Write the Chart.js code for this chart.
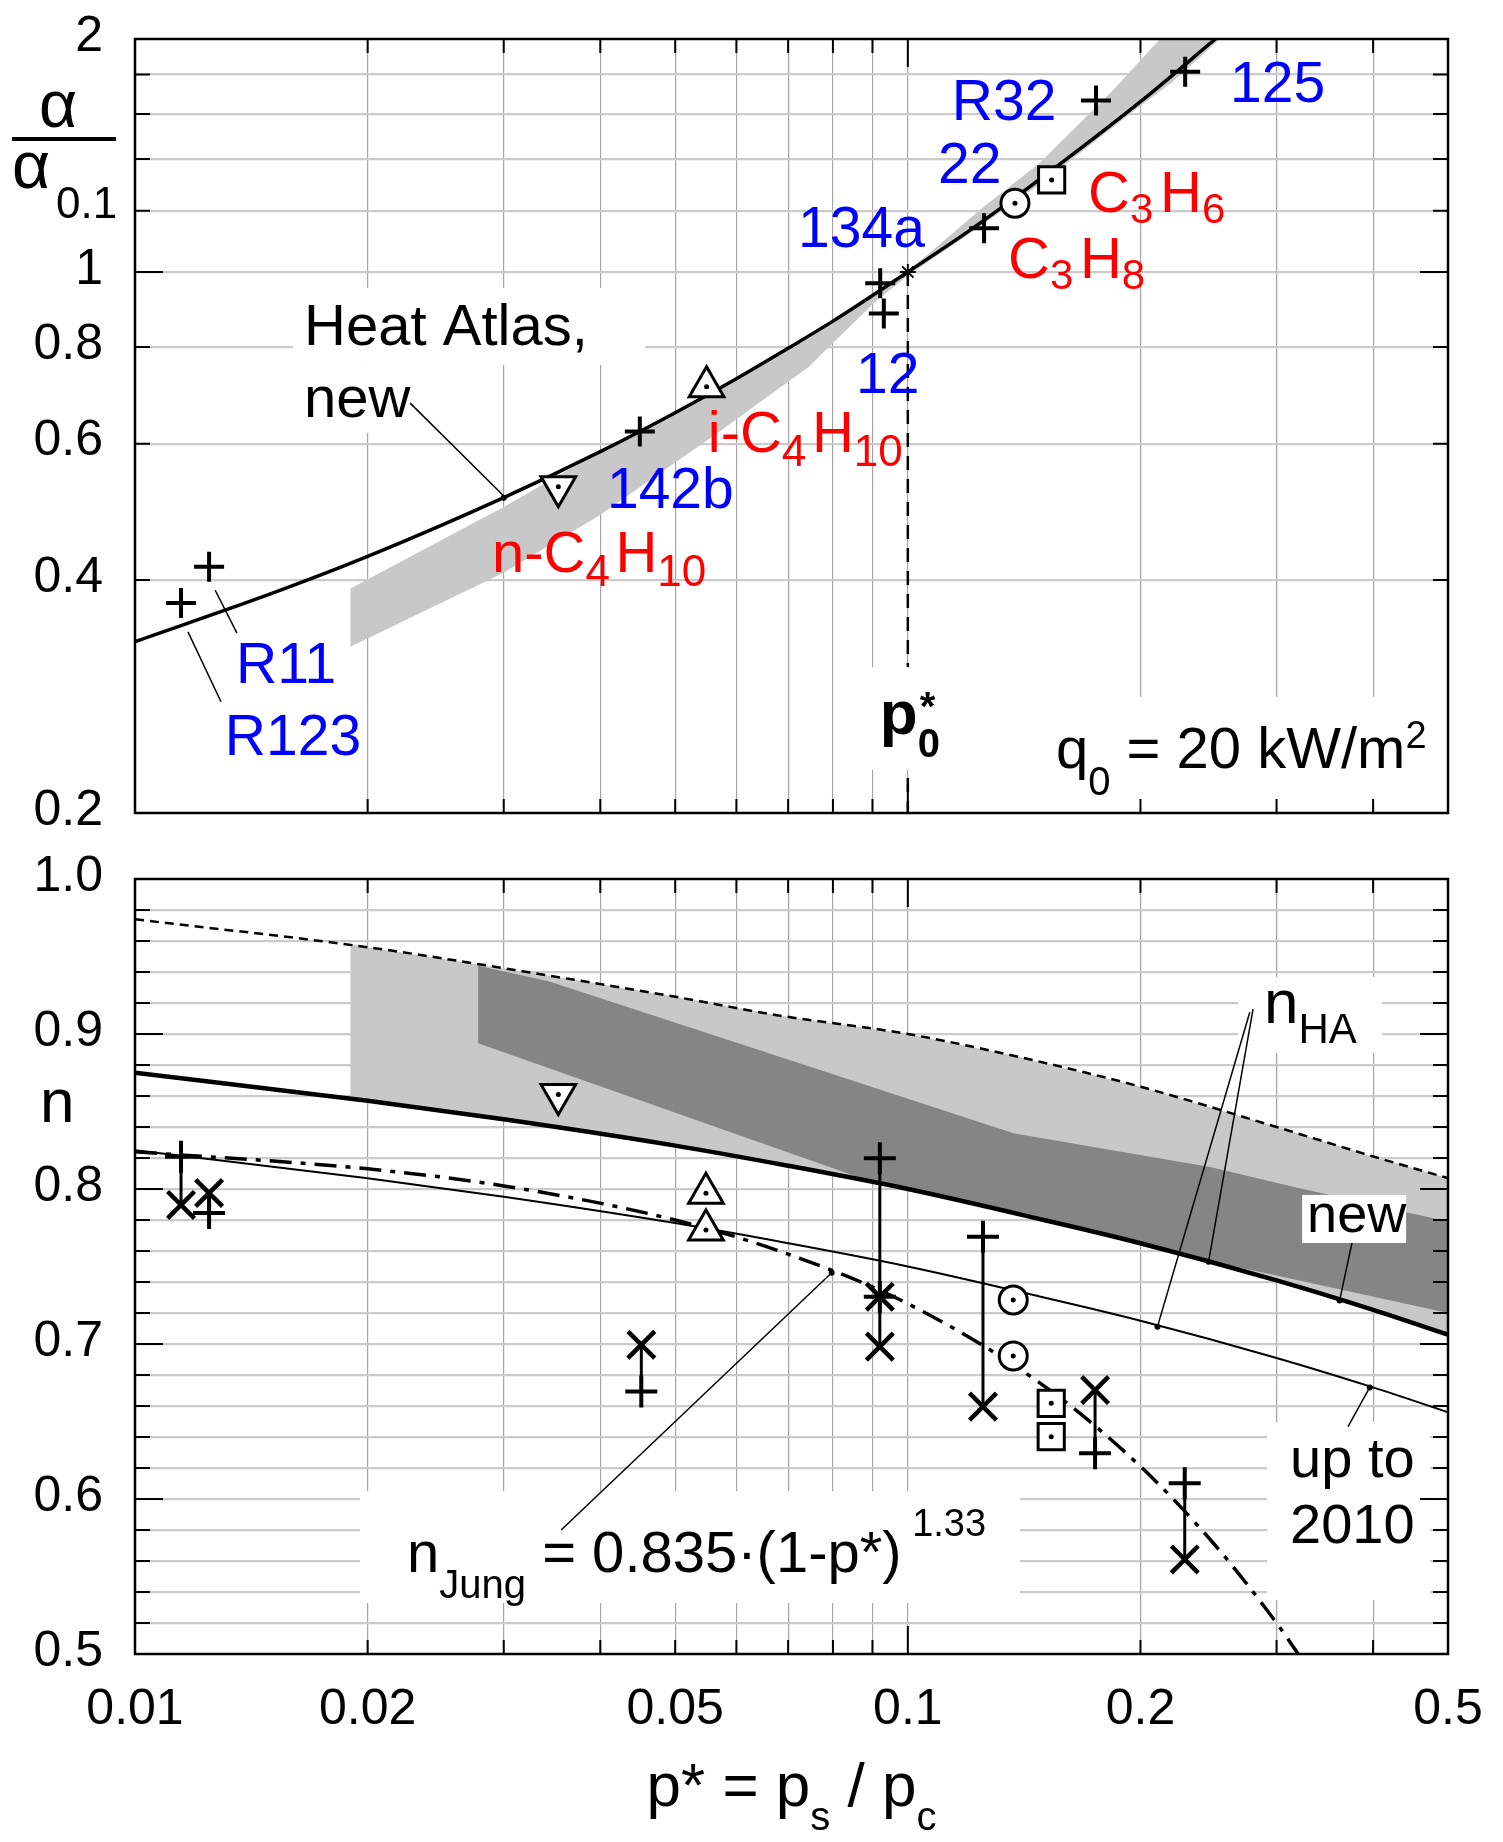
<!DOCTYPE html>
<html>
<head>
<meta charset="utf-8">
<title>alpha / alpha0.1 and n over p*</title>
<script src="https://cdn.jsdelivr.net/npm/chart.js@4.4.1/dist/chart.umd.min.js"></script>
<style>
  body { margin: 0; background: #fff; }
  #top-box { position: absolute; left: 0; top: 0; width: 1503px; height: 850px; }
  #bot-box { position: absolute; left: 0; top: 840px; width: 1503px; height: 1002px; }
</style>
</head>
<body>
<div id="top-box"><canvas id="top-chart" width="1503" height="850"></canvas></div>
<div id="bot-box"><canvas id="bot-chart" width="1503" height="1002"></canvas></div>
<script>
// ---------- upper panel: alpha / alpha0.1 over p* ----------
const pHeatAtlas     = [0.01, 0.015, 0.02, 0.03, 0.04, 0.05, 0.06, 0.07, 0.08, 0.1, 0.12, 0.15, 0.2, 0.25];
const alphaHeatAtlas = [0.333, 0.384, 0.429, 0.511, 0.586, 0.658, 0.728, 0.797, 0.864, 1.0, 1.13, 1.33, 1.66, 2.0];

// grey scatter band (outline, upper side then back along lower side)
const bandP = [0.019, 0.030, 0.0365, 0.045, 0.055, 0.07, 0.085, 0.095, 0.106, 0.124, 0.148, 0.1845, 0.212, 0.2535,
               0.22, 0.2, 0.15, 0.12, 0.1, 0.0908, 0.0744, 0.0559, 0.0397, 0.0299, 0.019];
const bandA = [0.390, 0.497, 0.556, 0.620, 0.692, 0.796, 0.897, 0.966, 1.052, 1.203, 1.382, 1.72, 2.0, 2.0,
               1.76, 1.64, 1.31, 1.12, 0.99, 0.916, 0.754, 0.613, 0.483, 0.408, 0.328];

// measured fluids (R123, R11, 142b, 134a, 12, C3H8, R32, 125)
const plusTopP = [0.01147, 0.01247, 0.045, 0.0921, 0.0931, 0.1255, 0.1752, 0.2285];
const plusTopA = [0.3735, 0.416, 0.622, 0.967, 0.884, 1.139, 1.665, 1.815];
const downTriTopP = [0.0353];  const downTriTopA = [0.528];   // n-C4H10
const upTriTopP   = [0.0549];  const upTriTopA   = [0.711];   // i-C4H10
const circleTopP  = [0.1376];  const circleTopA  = [1.227];   // 22
const squareTopP  = [0.1535];  const squareTopA  = [1.315];   // C3H6
const p0 = [0.1]; const alphaAtP0 = [1.0];

// ---------- lower panel: exponent n over p* ----------
const pN   = [0.01, 0.02, 0.03, 0.05, 0.07, 0.1, 0.15, 0.2, 0.3, 0.4, 0.5];
const nNew = [0.875, 0.857, 0.845, 0.828, 0.815, 0.800, 0.780, 0.765, 0.741, 0.722, 0.706];
const nOld = [0.825, 0.807, 0.795, 0.778, 0.765, 0.750, 0.730, 0.715, 0.691, 0.672, 0.656];
const pJung = [0.01, 0.02, 0.03, 0.05, 0.07, 0.1, 0.15, 0.2, 0.25, 0.3, 0.32];
const nJung = [0.824, 0.813, 0.802, 0.780, 0.758, 0.726, 0.673, 0.621, 0.570, 0.520, 0.500];
const pUpper = [0.01, 0.02, 0.034, 0.05, 0.068, 0.1, 0.137, 0.2, 0.3, 0.4, 0.5];
const nUpper = [0.974, 0.956, 0.938, 0.924, 0.912, 0.900, 0.886, 0.866, 0.840, 0.821, 0.807];

const lightP = [0.019, 0.02, 0.034, 0.05, 0.068, 0.1, 0.137, 0.2, 0.3, 0.4, 0.5,
                0.5, 0.4, 0.3, 0.2, 0.15, 0.1, 0.07, 0.05, 0.03, 0.02, 0.019];
const lightN = [0.958, 0.956, 0.938, 0.924, 0.912, 0.900, 0.886, 0.866, 0.840, 0.821, 0.807,
                0.706, 0.722, 0.741, 0.765, 0.780, 0.800, 0.815, 0.828, 0.845, 0.857, 0.859];
const darkP = [0.0278, 0.0343, 0.137, 0.247, 0.315, 0.5, 0.5, 0.2013, 0.15, 0.12, 0.0893, 0.0278];
const darkN = [0.944, 0.934, 0.836, 0.814, 0.8015, 0.779, 0.720, 0.763, 0.780, 0.791, 0.805, 0.894];

const plusBotP = [0.01147, 0.01247, 0.0452, 0.092, 0.092, 0.1251, 0.1747, 0.2282];
const plusBotN = [0.8208, 0.7845, 0.6694, 0.8198, 0.7305, 0.7692, 0.6295, 0.6101];
const xBotP = [0.01147, 0.01247, 0.0452, 0.092, 0.092, 0.1251, 0.1747, 0.2282];
const xBotN = [0.7897, 0.7974, 0.6995, 0.7305, 0.6983, 0.6596, 0.6703, 0.5610];
const downTriBotP = [0.0353];         const downTriBotN = [0.861];
const upTriBotP   = [0.0548, 0.0548]; const upTriBotN   = [0.7972, 0.7735];
const circleBotP  = [0.1369, 0.1369]; const circleBotN  = [0.7284, 0.6923];
const squareBotP  = [0.1533, 0.1533]; const squareBotN  = [0.6617, 0.6402];
const connP   = [0.01147, 0.01247, 0.0452, 0.092, 0.1251, 0.1747, 0.2282];
const connTop = [0.8208, 0.7974, 0.6995, 0.8198, 0.7692, 0.6703, 0.6101];
const connBot = [0.7897, 0.7845, 0.6694, 0.6983, 0.6596, 0.6295, 0.5610];
const dotBotP = [0.0797, 0.245, 0.362, 0.2104, 0.396];
const dotBotN = [0.746, 0.7531, 0.728, 0.7112, 0.672];

// axis ticks
const xGrid = [0.02, 0.03, 0.04, 0.05, 0.06, 0.07, 0.08, 0.09, 0.1, 0.2, 0.3, 0.4];
const xTickLabels = ['0.01', '0.02', '0.05', '0.1', '0.2', '0.5'];
const yTopGrid = [0.4, 0.6, 0.8, 1, 1.2, 1.4, 1.6, 1.8];
const yTopLabels = ['0.2', '0.4', '0.6', '0.8', '1', '2'];
const yBotLabels = ['0.5', '0.6', '0.7', '0.8', '0.9', '1.0'];
const yBotGrid = [];
for (let k = 26; k < 50; k++) yBotGrid.push(k / 50);

const FONT = '"Liberation Sans", Arial, sans-serif';
const BLUE = '#0000ff', RED = '#ff0000';

// leader lines, in data coordinates [p1, y1, p2, y2]
const topLeaders = [[0.0227, 0.677, 0.0301, 0.512], [0.0127, 0.388, 0.01355, 0.3416], [0.01171, 0.3428, 0.01292, 0.2785]];
const botLeaders = [[0.0356, 0.58, 0.0797, 0.746], [0.2797, 0.916, 0.245, 0.7531], [0.277, 0.914, 0.2104, 0.7112],
                    [0.3766, 0.768, 0.362, 0.728], [0.3712, 0.6467, 0.396, 0.672]];

// text parts: [text, size, dy, bold, absolute dx]
const topLabels = [
  { at: [0.01655, 0.805], parts: [['Heat Atlas,', 58]], box: [-11, -57, 341, 20] },
  { at: [0.01655, 0.650], parts: [['new', 58]], box: [-11, -52, 166, 16] },
  { at: [0.114, 1.571], color: BLUE, parts: [['R32', 57]] },
  { at: [0.2612, 1.660], color: BLUE, parts: [['125', 57]] },
  { at: [0.1094, 1.303], color: BLUE, parts: [['22', 57]] },
  { at: [0.0721, 1.077], color: BLUE, parts: [['134a', 57]] },
  { at: [0.0857, 0.698], color: BLUE, parts: [['12', 57]] },
  { at: [0.0408, 0.496], color: BLUE, parts: [['142b', 57]] },
  { at: [0.01351, 0.2944], color: BLUE, parts: [['R11', 57]] },
  { at: [0.01307, 0.2378], color: BLUE, parts: [['R123', 57]] },
  { at: [0.1711, 1.195], color: RED, parts: [['C', 58], ['3', 42, 11], [' ', 24], ['H', 58], ['6', 42, 11]] },
  { at: [0.1348, 0.982], color: RED, parts: [['C', 58], ['3', 42, 11], [' ', 24], ['H', 58], ['8', 42, 11]] },
  { at: [0.0551, 0.586], color: RED, parts: [['i-C', 58], ['4', 44, 14], [' ', 20], ['H', 58], ['10', 44, 14]] },
  { at: [0.02897, 0.410], color: RED, parts: [['n-C', 58], ['4', 44, 14], [' ', 20], ['H', 58], ['10', 44, 14]] },
  { at: [0.092, 0.2529], parts: [['p', 62, 0, true], ['0', 40, 23, true], ['*', 40, -14, true, 40]], box: [-20, -67, 70, 36], over: true },
  { at: [0.1555, 0.2287], parts: [['q', 58], ['0', 40, 27], [' = 20 kW/m', 58], ['2', 38, -20]], box: [-16, -71, 384, 38] }
];
const botLabels = [
  { at: [0.2890, 0.9071], parts: [['n', 62], ['HA', 42, 20]], box: [-26, -46, 118, 30] },
  { at: [0.3286, 0.7723], parts: [['new', 54]], box: [-5, -37, 99, 11], over: true },
  { at: [0.3123, 0.6142], parts: [['up to', 56]], box: [-23, -55, 140, 123] },
  { at: [0.3123, 0.5716], parts: [['2010', 56]] },
  { at: [0.02249, 0.5529], parts: [['n', 58], ['Jung', 40, 26], [' = 0.835·(1-p*)', 58], [' 1.33', 38, -36]], box: [-47, -81, 613, 31] }
];

const xy = (xs, ys) => xs.map((x, i) => ({ x: x, y: ys[i] }));

function drawParts(ctx, x, y, parts, color) {
  let cx = x;
  parts.forEach(p => {
    const size = p[1], dy = p[2] || 0, bold = p[3], abs = p[4];
    ctx.font = (bold ? 'bold ' : '') + size + 'px ' + FONT;
    ctx.fillStyle = color;
    if (abs != null) {
      ctx.fillText(p[0], x + abs, y + dy);
    } else {
      ctx.fillText(p[0], cx, y + dy);
      cx += ctx.measureText(p[0]).width;
    }
  });
  return cx - x;
}

function partsWidth(ctx, parts) {
  let w = 0;
  parts.forEach(p => { ctx.font = p[1] + 'px ' + FONT; w += ctx.measureText(p[0]).width; });
  return w;
}

function lineDs(data, width, dash, order) {
  return { data: data, showLine: true, borderColor: '#000', borderWidth: width, borderDash: dash || [],
           pointRadius: 0, fill: false, tension: 0, order: order || 10 };
}
function curveDs(data, width, dash) {
  const d = lineDs(data, width, dash, 10);
  d.cubicInterpolationMode = 'monotone';
  return d;
}
function bandDs(data, color, order) {
  return { data: data, showLine: true, fill: 'shape', backgroundColor: color, borderColor: 'rgba(0,0,0,0)',
           borderWidth: 1, pointRadius: 0, tension: 0, order: order };
}
function markDs(data, style, radius, width, extra) {
  return Object.assign({ data: data, showLine: false, pointStyle: style, pointRadius: radius,
    pointBorderWidth: width, pointBorderColor: '#000', pointBackgroundColor: '#fff', order: 1 }, extra || {});
}
function dotDs(data, radius) {
  return { data: data, showLine: false, pointStyle: 'circle', pointRadius: radius, pointBorderWidth: 0,
           pointBorderColor: '#000', pointBackgroundColor: '#000', order: 0 };
}
function leaderDs(list) {
  return list.map(l => lineDs([{ x: l[0], y: l[1] }, { x: l[2], y: l[3] }], 1.5, null, 9));
}

function near(v, list) { return list.some(m => Math.abs(m - v) < 1e-9); }

// frame, inward ticks, tick labels, white label boxes and annotations
function makeDeco(cfg) {
  function boxes(chart, over) {
    const ctx = chart.ctx, sx = chart.scales.x, sy = chart.scales.y;
    ctx.save();
    ctx.fillStyle = '#fff';
    cfg.labels.forEach(l => {
      if (!l.box || !!l.over !== over) return;
      const ax = sx.getPixelForValue(l.at[0]), ay = sy.getPixelForValue(l.at[1]);
      ctx.fillRect(ax + l.box[0], ay + l.box[1], l.box[2] - l.box[0], l.box[3] - l.box[1]);
    });
    ctx.restore();
  }
  return {
    id: 'deco',
    beforeDatasetsDraw(chart) { boxes(chart, false); },
    afterDatasetsDraw(chart) {
      boxes(chart, true);
      const ctx = chart.ctx, sx = chart.scales.x, sy = chart.scales.y;
      ctx.save();
      ctx.textAlign = 'left';
      ctx.textBaseline = 'alphabetic';
      cfg.labels.forEach(l => {
        drawParts(ctx, sx.getPixelForValue(l.at[0]), sy.getPixelForValue(l.at[1]), l.parts, l.color || '#000');
      });
      ctx.restore();
    },
    afterDraw(chart) {
      const ctx = chart.ctx, a = chart.chartArea, sx = chart.scales.x, sy = chart.scales.y;
      ctx.save();
      ctx.strokeStyle = '#000';
      ctx.lineWidth = 2;
      ctx.beginPath();
      cfg.xTicks.forEach(v => {
        const px = sx.getPixelForValue(v);
        const len = near(v, cfg.xMajor) ? 28 : 14;
        ctx.moveTo(px, a.bottom); ctx.lineTo(px, a.bottom - len);
        ctx.moveTo(px, a.top); ctx.lineTo(px, a.top + len);
      });
      cfg.yTicks.forEach(v => {
        const py = sy.getPixelForValue(v);
        const len = near(v, cfg.yMajor) ? 28 : 15;
        ctx.moveTo(a.left, py); ctx.lineTo(a.left + len, py);
        ctx.moveTo(a.right, py); ctx.lineTo(a.right - len, py);
      });
      ctx.stroke();
      ctx.lineWidth = 2.5;
      ctx.strokeRect(a.left, a.top, a.right - a.left, a.bottom - a.top);

      ctx.fillStyle = '#000';
      ctx.font = '50px ' + FONT;
      ctx.textAlign = 'right';
      ctx.textBaseline = 'middle';
      cfg.yLabels.forEach(t => ctx.fillText(t, a.left - 32, sy.getPixelForValue(parseFloat(t)) - 2));
      ctx.textAlign = 'center';
      ctx.textBaseline = 'alphabetic';
      (cfg.xLabels || []).forEach(t => ctx.fillText(t, sx.getPixelForValue(parseFloat(t)), a.bottom + 70));
      ctx.textAlign = 'left';
      if (cfg.titles) cfg.titles(ctx, a);
      ctx.restore();
    }
  };
}

function scales(yType, yMin, yMax, yGrid) {
  return {
    x: {
      type: 'logarithmic', min: 0.01, max: 0.5,
      afterFit: s => { s.height = 0; },
      afterBuildTicks: s => { s.ticks = xGrid.map(v => ({ value: v })); },
      ticks: { display: false },
      grid: { color: '#a6a6a6', lineWidth: 1.2, drawTicks: false },
      border: { display: false }
    },
    y: {
      type: yType, min: yMin, max: yMax,
      afterFit: s => { s.width = 0; },
      afterBuildTicks: s => { s.ticks = yGrid.map(v => ({ value: v })); },
      ticks: { display: false },
      grid: { color: '#cbcbcb', lineWidth: 2.2, drawTicks: false },
      border: { display: false }
    }
  };
}

const baseOpts = {
  responsive: false, animation: false, devicePixelRatio: 1, events: [],
  plugins: { legend: { display: false }, tooltip: { enabled: false } }
};

// ----- upper chart -----
const topDatasets = [
  bandDs(xy(bandP, bandA), '#c8c8c8', 20),
  curveDs(xy(pHeatAtlas, alphaHeatAtlas), 3.5),
  lineDs([{ x: p0[0], y: alphaAtP0[0] }, { x: p0[0], y: 0.2 }], 2.5, [14, 9], 10),
  ...leaderDs(topLeaders),
  markDs(xy(plusTopP, plusTopA), 'cross', 15, 4),
  markDs(xy(downTriTopP, downTriTopA), 'triangle', 20, 3, { pointRotation: 180 }),
  markDs(xy(upTriTopP, upTriTopA), 'triangle', 20, 3),
  markDs(xy(circleTopP, circleTopA), 'circle', 14, 3),
  markDs(xy(squareTopP, squareTopA), 'rect', 18.5, 3),
  markDs(xy(p0, alphaAtP0), 'star', 8, 2),
  dotDs(xy([0.03], [0.511]), 3),
  dotDs(xy(downTriTopP.concat(upTriTopP, circleTopP, squareTopP), downTriTopA.concat(upTriTopA, circleTopA, squareTopA)), 2.5)
];

new Chart(document.getElementById('top-chart'), {
  type: 'scatter',
  data: { datasets: topDatasets },
  options: Object.assign({}, baseOpts, {
    layout: { padding: { left: 135, right: 55, top: 39, bottom: 37 } },
    scales: scales('logarithmic', 0.2, 2, yTopGrid)
  }),
  plugins: [makeDeco({
    labels: topLabels, xTicks: xGrid, xMajor: [0.1], yTicks: yTopGrid, yMajor: [1],
    yLabels: yTopLabels,
    titles: (ctx) => {
      ctx.fillStyle = '#000';
      ctx.font = '66px ' + FONT;
      ctx.textAlign = 'center';
      ctx.fillText('α', 58, 127);
      ctx.fillRect(12, 137, 104, 4);
      ctx.textAlign = 'left';
      ctx.fillText('α', 12, 188);
      ctx.font = '44px ' + FONT;
      ctx.fillText('0.1', 56, 218);
    }
  })]
});

// ----- lower chart -----
const botDatasets = [
  bandDs(xy(lightP, lightN), '#c8c8c8', 21),
  bandDs(xy(darkP, darkN), '#858585', 20),
  curveDs(xy(pUpper, nUpper), 2.5, [9, 6]),
  curveDs(xy(pN, nNew), 4.5),
  curveDs(xy(pN, nOld), 2),
  curveDs(xy(pJung, nJung), 3.5, [22, 9, 5, 9]),
  ...connP.map((p, i) => lineDs([{ x: p, y: connTop[i] }, { x: p, y: connBot[i] }], 3, null, 8)),
  ...leaderDs(botLeaders),
  markDs(xy(plusBotP, plusBotN), 'cross', 16, 4),
  markDs(xy(xBotP, xBotN), 'crossRot', 19, 4.5),
  markDs(xy(downTriBotP, downTriBotN), 'triangle', 20, 3, { pointRotation: 180 }),
  markDs(xy(upTriBotP, upTriBotN), 'triangle', 20, 3),
  markDs(xy(circleBotP, circleBotN), 'circle', 14, 3),
  markDs(xy(squareBotP, squareBotN), 'rect', 18.5, 3),
  dotDs(xy(dotBotP, dotBotN), 3),
  dotDs(xy(downTriBotP.concat(upTriBotP, circleBotP, squareBotP), downTriBotN.concat(upTriBotN, circleBotN, squareBotN)), 2.5)
];

new Chart(document.getElementById('bot-chart'), {
  type: 'scatter',
  data: { datasets: botDatasets },
  options: Object.assign({}, baseOpts, {
    layout: { padding: { left: 135, right: 55, top: 39, bottom: 188 } },
    scales: scales('linear', 0.5, 1.0, yBotGrid)
  }),
  plugins: [makeDeco({
    labels: botLabels, xTicks: xGrid, xMajor: [0.1], yTicks: yBotGrid, yMajor: [0.6, 0.7, 0.8, 0.9],
    yLabels: yBotLabels, xLabels: xTickLabels,
    titles: (ctx, a) => {
      ctx.fillStyle = '#000';
      ctx.font = '62px ' + FONT;
      ctx.fillText('n', 40, 282);
      const title = [['p* = p', 62], ['s', 40, 24], [' / p', 62], ['c', 40, 24]];
      const w = partsWidth(ctx, title);
      drawParts(ctx, (a.left + a.right) / 2 - w / 2, a.bottom + 152, title, '#000');
    }
  })]
});
</script>
</body>
</html>
